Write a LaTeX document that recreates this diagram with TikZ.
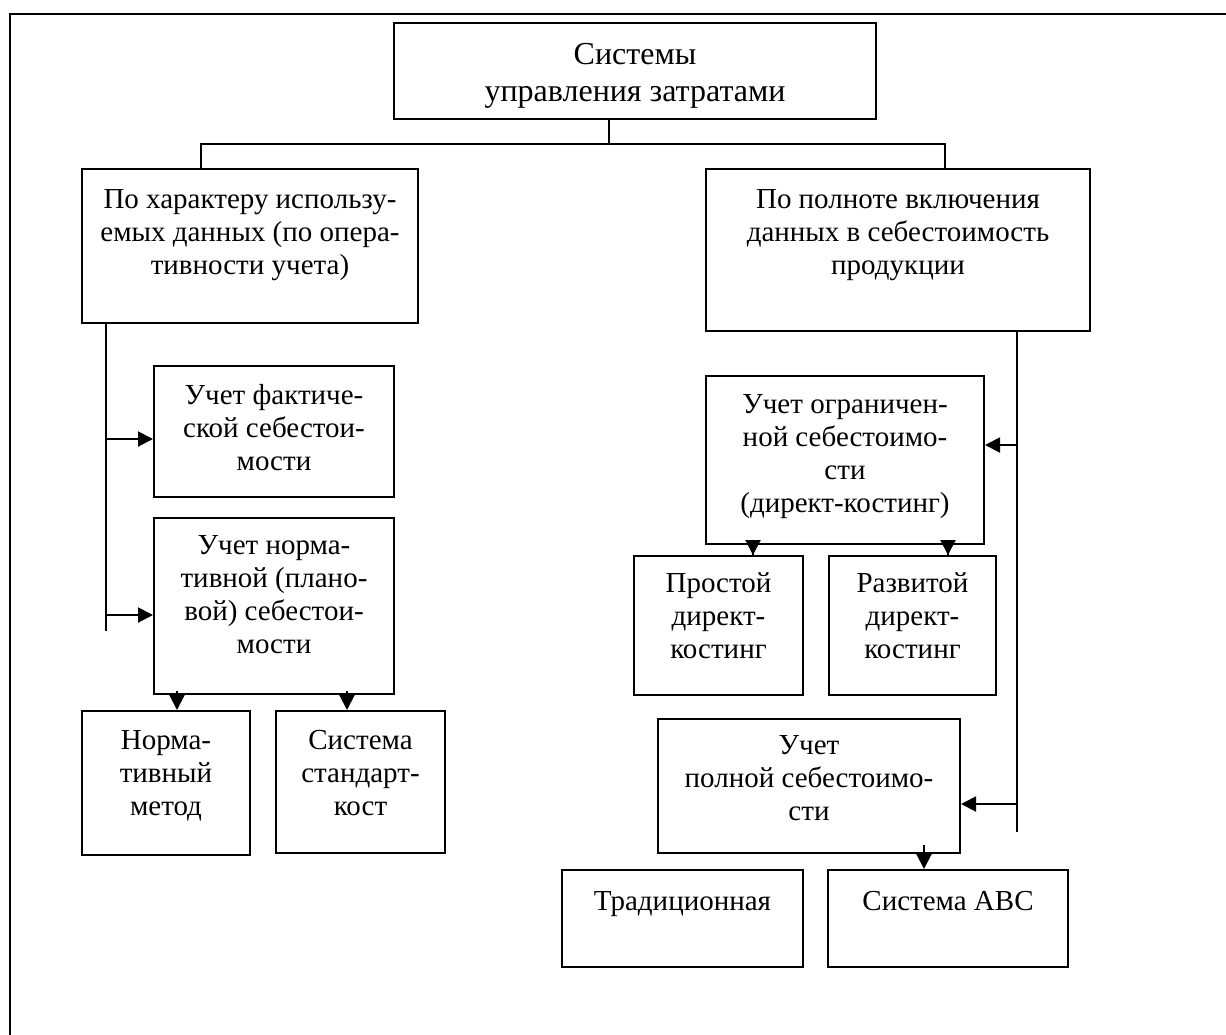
\documentclass[tikz,border=0pt]{standalone}
\usepackage{fontspec}
\setmainfont{Liberation Serif}
\usepackage{tikz}
\usetikzlibrary{arrows.meta,positioning}
\newcommand{\cellbox}[4]{\parbox[c][#2][t]{#1}{\centering\rule{0pt}{#3}#4}}

\begin{document}
\begin{tikzpicture}[x=0.5pt,y=-0.5pt,line width=1pt]
	
	% Definitions.
	\tikzstyle{every node}=[
		inner sep=0pt,
		font=\fontsize{14.5}{16.5}\selectfont
	]
	\tikzstyle{cell}=[draw, anchor=north west]
	\def\myarrow{Triangle[width=7.5pt,length=7.5pt]};
	
	\useasboundingbox (0,0) rectangle (1226,1034);
	
	% ---------- Frame ---------
	\draw (1230,14) -- (10,14) -- (10,1040);
	
	% ---------- Boxes ---------
	
	\node[cell, font=\fontsize{16}{18.5}\selectfont] (sys) at (393,22) {\cellbox{241pt}{48pt}{20.5pt}{Системы\\управления затратами}};
	\node[cell] (char) at (81,168) {\cellbox{168pt}{77pt}{19.5pt}{По характеру использу-\\емых данных (по опера-\\тивности учета)}};
	\node[cell] (full) at (705,168) {\cellbox{192pt}{81pt}{19.5pt}{По полноте включения\\данных в себестоимость\\продукции}};
	
	% Left branch.
	\node[cell] (fact) at (153,365) {\cellbox{120pt}{65.5pt}{19pt}{Учет фактиче-\\ской себестои-\\мости}};
	\node[cell] (norm) at (153,517) {\cellbox{120pt}{88pt}{18pt}{Учет норма-\\тивной (плано-\\вой) себестои-\\мости}};
	\node[cell] (nmet) at (81,710) {\cellbox{84pt}{72pt}{19pt}{Норма-\\тивный\\метод}};
	\node[cell, right=12pt of nmet.north east, anchor=north west] (stdc) {\cellbox{84.5pt}{71pt}{19pt}{Система\\стандарт-\\кост}};
	
	% Right branch.
	\node[cell] (lim) at (705,375) {\cellbox{139pt}{84pt}{18.5pt}{Учет ограничен-\\ной себестоимо-\\сти\\(директ-костинг)}};
	\node[cell] (simp) at (633,555) {\cellbox{84.5pt}{69.5pt}{18pt}{Простой\\директ-\\костинг}};
	\node[cell, right=12pt of simp.north east, anchor=north west] (dev) {\cellbox{83.5pt}{69.5pt}{18pt}{Развитой\\директ-\\костинг}};
	\node[cell] (fullc) at (657,718) {\cellbox{151pt}{67pt}{17.5pt}{Учет\\полной себестоимо-\\сти}};
	\node[cell] (trad) at (561,869) {\cellbox{120.5pt}{48.5pt}{20pt}{Традиционная}};
	\node[cell, right=11.5pt of trad.north east, anchor=north west] (abc) {\cellbox{120pt}{48.5pt}{20pt}{Система ABC}};
	
	% ---------- Top connectors ---------
	\coordinate (sysTap) at ([xshift=108pt]sys.south west);
	\coordinate (bus) at ([yshift=-12pt]sysTap);
	\draw (sysTap) -- (bus);
	\draw ([xshift=60pt]char.north west) |- (bus) -| ([xshift=120pt]full.north west);
	
	% ---------- Left line ---------
	\coordinate (leftTop) at ([xshift=12.5pt]char.south west);
	\coordinate (leftEnd) at ([yshift=-153.5pt]leftTop);
	\draw (leftTop) -- (leftEnd);
	\coordinate (factIn) at ([yshift=-3.75pt]fact.west);
	\coordinate (normIn) at ([yshift=-4.5pt]norm.west);
	\draw[-{\myarrow}] (leftTop |- factIn) -- (factIn);
	\draw[-{\myarrow}] (leftTop |- normIn) -- (normIn);
	
	\coordinate (nmetIn) at ([xshift=48pt]nmet.north west);
	\coordinate (stdcIn) at ([xshift=36pt]stdc.north west);
	\draw[-{\myarrow}, shorten <=-2pt] (norm.south -| nmetIn) -- (nmetIn);
	\draw[-{\myarrow}, shorten <=-2pt] (norm.south -| stdcIn) -- (stdcIn);
	
	% ---------- Right line ---------
	\coordinate (rightTop) at ([xshift=156pt]full.south west);
	\coordinate (rightEnd) at ([yshift=-250pt]rightTop);
	\draw (rightTop) -- (rightEnd);
	\coordinate (limIn) at ([yshift=7.5pt]lim.east);
	\coordinate (fullcIn) at ([yshift=-9pt]fullc.east);
	\draw[-{\myarrow}] (rightTop |- limIn) -- (limIn);
	\draw[-{\myarrow}] (rightTop |- fullcIn) -- (fullcIn);
	
	\coordinate (simpIn) at ([xshift=60pt]simp.north west);
	\coordinate (devIn) at ([xshift=60pt]dev.north west);
	\coordinate (abcIn) at ([xshift=48.5pt]abc.north west);
	\draw[-{\myarrow}, shorten <=-5pt] (lim.south -| simpIn) -- (simpIn);
	\draw[-{\myarrow}, shorten <=-5pt] (lim.south -| devIn) -- (devIn);
	\draw[-{\myarrow}, shorten <=-4.5pt] (fullc.south -| abcIn) -- (abcIn);
	
\end{tikzpicture}
\end{document}
